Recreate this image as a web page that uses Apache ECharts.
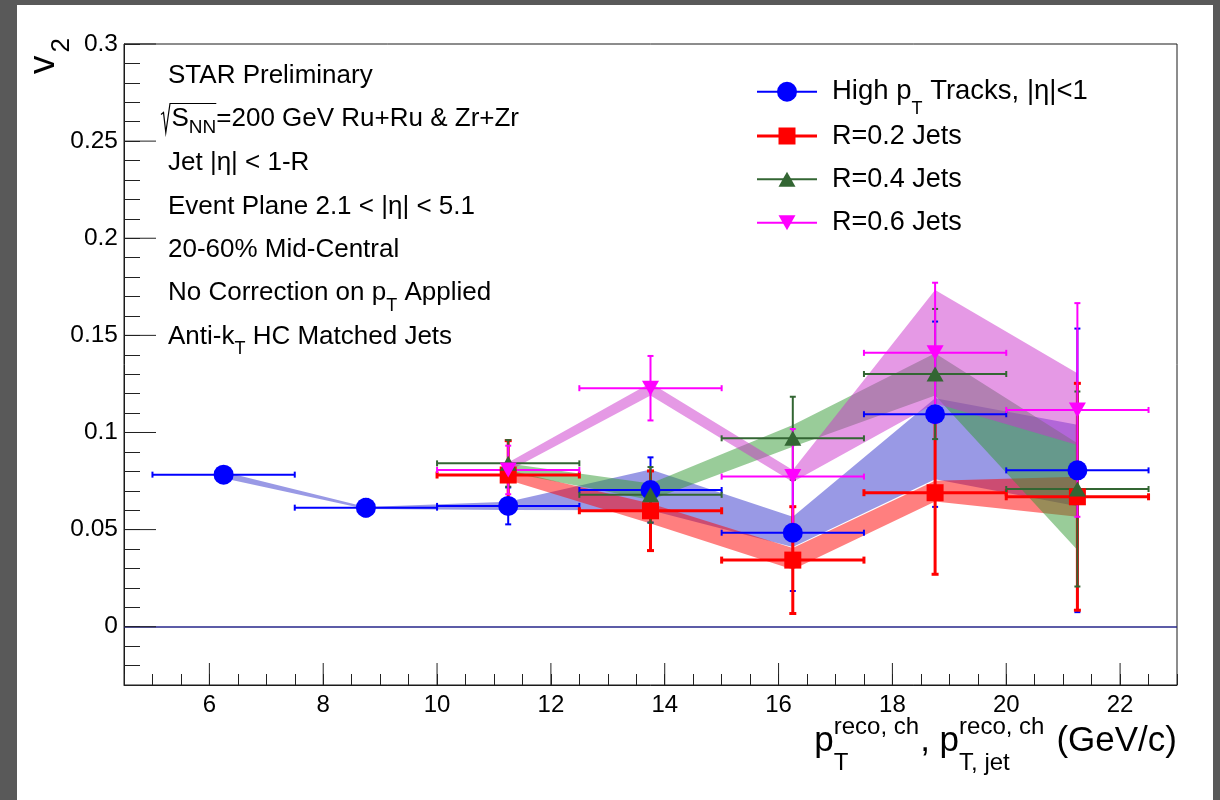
<!DOCTYPE html>
<html>
<head>
<meta charset="utf-8">
<script src="https://cdn.jsdelivr.net/npm/echarts@6/dist/echarts.min.js"></script>
<style>
html,body{margin:0;padding:0;background:#595959;}
#wrap{position:relative;width:1220px;height:800px;background:#595959;overflow:hidden;}
#paper{position:absolute;left:17px;top:5px;width:1196px;height:795px;background:#ffffff;}
#chart{position:absolute;left:0;top:0;width:1220px;height:800px;}
</style>
</head>
<body>
<div id="wrap"><div id="paper"></div><div id="chart"></div></div>
<script>
// ---------------- data ----------------
const tracksPt      = [6.25, 8.75, 11.25, 13.75, 16.25, 18.75, 21.25];
const tracksPtErr   = [1.25, 1.25, 1.25, 1.25, 1.25, 1.25, 1.25];
const tracksV2      = [0.0783, 0.0613, 0.0622, 0.0704, 0.0484, 0.1094, 0.0805];
const tracksStatErr = [0.0020, 0.0045, 0.0095, 0.0168, 0.0300, 0.0477, 0.0730];
const tracksSysLow  = [0.0765, 0.0606, 0.0601, 0.0600, 0.0410, 0.0759, 0.0620];
const tracksSysHigh = [0.0798, 0.0617, 0.0644, 0.0810, 0.0566, 0.1176, 0.1040];

const jetPt         = [11.25, 13.75, 16.25, 18.75, 21.25];
const jetPtErr      = [1.25, 1.25, 1.25, 1.25, 1.25];

const r02V2         = [0.0781, 0.0597, 0.0343, 0.0690, 0.0669];
const r02StatErr    = [0.0177, 0.0205, 0.0275, 0.0420, 0.0584];
const r02SysLow     = [0.0755, 0.0532, 0.0295, 0.0645, 0.0566];
const r02SysHigh    = [0.0807, 0.0635, 0.0405, 0.0752, 0.0772];

const r04V2         = [0.0841, 0.0679, 0.0970, 0.1301, 0.0709];
const r04StatErr    = [0.0120, 0.0143, 0.0214, 0.0335, 0.0502];
const r04SysLow     = [0.0795, 0.0652, 0.0927, 0.1190, 0.0395];
const r04SysHigh    = [0.0840, 0.0738, 0.1039, 0.1408, 0.0944];

const r06V2         = [0.0807, 0.1228, 0.0773, 0.1410, 0.1116];
const r06StatErr    = [0.0125, 0.0166, 0.0245, 0.0361, 0.0550];
const r06SysLow     = [0.0800, 0.1190, 0.0745, 0.1150, 0.0936];
const r06SysHigh    = [0.0845, 0.1255, 0.0807, 0.1734, 0.1305];

const xTickLabels = [6, 8, 10, 12, 14, 16, 18, 20, 22];
const yTickLabels = [0, 0.05, 0.1, 0.15, 0.2, 0.25, 0.3];
const xRange = [4.5, 23];
const yRange = [-0.03, 0.3];

// ---------------- helpers ----------------
const FONT = '"Liberation Sans", Arial, Helvetica, sans-serif';
const mctx = document.createElement('canvas').getContext('2d');
function tw(t, fs) { mctx.font = fs + 'px ' + FONT; return mctx.measureText(t).width; }
function run(x, base, segs, align) {
  const widths = segs.map(s => s.stack ? Math.max.apply(null, s.stack.map(q => tw(q.t, q.fs))) : tw(s.t, s.fs));
  let total = 0;
  segs.forEach((s, k) => { total += widths[k] + (s.gap || 0); });
  let cx = align === 'right' ? x - total : x;
  const els = [];
  const pos = [];
  segs.forEach((s, k) => {
    pos.push(cx);
    const parts = s.stack || [s];
    parts.forEach(q => {
      els.push({
        type: 'text', x: cx, y: base + (q.dy || 0) - 0.3465 * q.fs, silent: true,
        style: { text: q.t, fontSize: q.fs, fontFamily: FONT, fill: '#000', align: 'left', verticalAlign: 'middle' }
      });
    });
    cx += widths[k] + (s.gap || 0);
  });
  return { els: els, end: cx, pos: pos };
}

function bandRender(xs, lo, hi, color) {
  return function (params, api) {
    if (params.dataIndex !== 0) return null;
    const upper = xs.map((x, i) => api.coord([x, hi[i]]));
    const lower = xs.map((x, i) => api.coord([x, lo[i]])).reverse();
    return { type: 'polygon', shape: { points: upper.concat(lower) }, style: { fill: color } };
  };
}
function errRender(color, lw, cap) {
  return function (params, api) {
    const x = api.value(0), y = api.value(1), ex = api.value(2), ey = api.value(3);
    const pL = api.coord([x - ex, y]), pR = api.coord([x + ex, y]);
    const pT = api.coord([x, y + ey]), pB = api.coord([x, y - ey]);
    const st = { stroke: color, lineWidth: lw };
    return { type: 'group', children: [
      { type: 'line', shape: { x1: pL[0], y1: pL[1], x2: pR[0], y2: pR[1] }, style: st },
      { type: 'line', shape: { x1: pL[0], y1: pL[1] - cap, x2: pL[0], y2: pL[1] + cap }, style: st },
      { type: 'line', shape: { x1: pR[0], y1: pR[1] - cap, x2: pR[0], y2: pR[1] + cap }, style: st },
      { type: 'line', shape: { x1: pT[0], y1: pT[1], x2: pB[0], y2: pB[1] }, style: st },
      { type: 'line', shape: { x1: pT[0] - cap, y1: pT[1], x2: pT[0] + cap, y2: pT[1] }, style: st },
      { type: 'line', shape: { x1: pB[0] - cap, y1: pB[1], x2: pB[0] + cap, y2: pB[1] }, style: st }
    ]};
  };
}
function rows4(xs, ys, exs, eys) { return xs.map((x, i) => [x, ys[i], exs[i], eys[i]]); }
function rows3(xs, lo, hi) { return xs.map((x, i) => [x, lo[i], hi[i]]); }

const COL = { blue: '#0000ff', red: '#ff0000', green: '#336633', mag: '#ff00ff' };
const BAND = { blue: 'rgba(51,51,204,0.5)', red: 'rgba(255,0,0,0.5)', green: 'rgba(51,153,51,0.5)', mag: 'rgba(204,51,204,0.5)' };

// ---------------- series ----------------
const series = [];
[[tracksPt, tracksSysLow, tracksSysHigh, BAND.blue],
 [jetPt, r02SysLow, r02SysHigh, BAND.red],
 [jetPt, r04SysLow, r04SysHigh, BAND.green],
 [jetPt, r06SysLow, r06SysHigh, BAND.mag]].forEach(b => {
  series.push({ type: 'custom', silent: true, z: 2, data: rows3(b[0], b[1], b[2]),
    encode: { x: 0, y: [1, 2] }, renderItem: bandRender(b[0], b[1], b[2], b[3]) });
});
[[tracksPt, tracksV2, tracksPtErr, tracksStatErr, COL.blue, 2, 3],
 [jetPt, r02V2, jetPtErr, r02StatErr, COL.red, 3, 3.5],
 [jetPt, r04V2, jetPtErr, r04StatErr, COL.green, 2, 3],
 [jetPt, r06V2, jetPtErr, r06StatErr, COL.mag, 2, 3]].forEach(e => {
  series.push({ type: 'custom', silent: true, z: 3, data: rows4(e[0], e[1], e[2], e[3]),
    encode: { x: 0, y: 1 }, renderItem: errRender(e[4], e[5], e[6]) });
});
series.push({ type: 'scatter', silent: true, z: 4, symbol: 'circle', symbolSize: 20,
  itemStyle: { color: COL.blue, opacity: 1 }, data: tracksPt.map((x, i) => [x, tracksV2[i]]),
  markLine: { silent: true, symbol: 'none', label: { show: false },
    lineStyle: { color: '#26268a', width: 1.5, type: 'solid' }, data: [{ yAxis: 0 }] } });
series.push({ type: 'scatter', silent: true, z: 4, symbol: 'rect', symbolSize: 17,
  itemStyle: { color: COL.red, opacity: 1 }, data: jetPt.map((x, i) => [x, r02V2[i]]) });
series.push({ type: 'scatter', silent: true, z: 4, symbol: 'triangle', symbolSize: [17, 15],
  itemStyle: { color: COL.green, opacity: 1 }, data: jetPt.map((x, i) => [x, r04V2[i]]) });
series.push({ type: 'scatter', silent: true, z: 4, symbol: 'triangle', symbolRotate: 180, symbolSize: [17, 15],
  itemStyle: { color: COL.mag, opacity: 1 }, data: jetPt.map((x, i) => [x, r06V2[i]]) });
// major ticks (longer) at labelled values
series.push({ type: 'custom', silent: true, z: 5, data: xTickLabels.map(v => [v, yRange[0]]),
  encode: { x: 0, y: 1 },
  renderItem: (p, api) => { const c = api.coord([api.value(0), api.value(1)]);
    return { type: 'line', shape: { x1: c[0], y1: c[1], x2: c[0], y2: c[1] - 22 }, style: { stroke: '#222', lineWidth: 1 } }; } });
series.push({ type: 'custom', silent: true, z: 5, data: yTickLabels.map(v => [xRange[0], v]),
  encode: { x: 0, y: 1 },
  renderItem: (p, api) => { const c = api.coord([api.value(0), api.value(1)]);
    return { type: 'line', shape: { x1: c[0], y1: c[1], x2: c[0] + 32, y2: c[1] }, style: { stroke: '#222', lineWidth: 1 } }; } });

// ---------------- text (graphic) ----------------
const graphic = [];
const AFS = 26;
const annot = [
  { base: 84.5, segs: [{ t: 'STAR Preliminary', fs: AFS }] },
  { base: 171.5, segs: [{ t: 'Jet |η| < 1-R', fs: AFS }] },
  { base: 216, segs: [{ t: 'Event Plane 2.1 < |η| < 5.1', fs: AFS }] },
  { base: 258.5, segs: [{ t: '20-60% Mid-Central', fs: AFS }] },
  { base: 302, segs: [{ t: 'No Correction on p', fs: AFS }, { t: 'T', fs: 18, dy: 10 }, { t: ' Applied', fs: AFS }] },
  { base: 345.5, segs: [{ t: 'Anti-k', fs: AFS }, { t: 'T', fs: 18, dy: 10 }, { t: ' HC Matched Jets', fs: AFS }] }
];
annot.forEach(a => { run(168, a.base, a.segs).els.forEach(e => graphic.push(e)); });
// sqrt(S_NN) line
const l2 = run(171.5, 127.5, [{ t: 'S', fs: AFS }, { t: 'NN', fs: 19, dy: 7 }, { t: '=200 GeV Ru+Ru & Zr+Zr', fs: AFS }]);
l2.els.forEach(e => graphic.push(e));
graphic.push({ type: 'polyline', silent: true,
  shape: { points: [[161, 114.5], [163.5, 112.5], [165.8, 132.5], [170, 103.5], [l2.pos[2], 103.5]] },
  style: { stroke: '#000', lineWidth: 1.2, fill: null } });

// legend
const legendRows = [
  { y: 91.7, color: COL.blue, lw: 2, sym: 'circle', segs: [{ t: 'High p', fs: 27.5 }, { t: 'T', fs: 18, dy: 14 }, { t: ' Tracks, |η|<1', fs: 27.5 }] },
  { y: 136, color: COL.red, lw: 3, sym: 'rect', segs: [{ t: 'R=0.2 Jets', fs: 27 }] },
  { y: 179.3, color: COL.green, lw: 2, sym: 'tri', segs: [{ t: 'R=0.4 Jets', fs: 27 }] },
  { y: 222.7, color: COL.mag, lw: 2, sym: 'itri', segs: [{ t: 'R=0.6 Jets', fs: 27 }] }
];
legendRows.forEach(r => {
  graphic.push({ type: 'line', silent: true, shape: { x1: 757, y1: r.y, x2: 817, y2: r.y }, style: { stroke: r.color, lineWidth: r.lw } });
  const cx = 787, cy = r.y;
  if (r.sym === 'circle') graphic.push({ type: 'circle', silent: true, shape: { cx: cx, cy: cy, r: 10 }, style: { fill: r.color } });
  if (r.sym === 'rect') graphic.push({ type: 'rect', silent: true, shape: { x: cx - 8.5, y: cy - 8.5, width: 17, height: 17 }, style: { fill: r.color } });
  if (r.sym === 'tri') graphic.push({ type: 'polygon', silent: true, shape: { points: [[cx, cy - 7.5], [cx + 8.5, cy + 7.5], [cx - 8.5, cy + 7.5]] }, style: { fill: r.color } });
  if (r.sym === 'itri') graphic.push({ type: 'polygon', silent: true, shape: { points: [[cx, cy + 7.5], [cx + 8.5, cy - 7.5], [cx - 8.5, cy - 7.5]] }, style: { fill: r.color } });
  run(832, r.y + 0.358 * 27, r.segs).els.forEach(e => graphic.push(e));
});

// x-axis title
run(1177, 753, [
  { t: 'p', fs: 35 },
  { stack: [{ t: 'reco, ch', fs: 24, dy: -17 }, { t: 'T', fs: 24, dy: 19 }], gap: 1 },
  { t: ', p', fs: 35 },
  { stack: [{ t: 'reco, ch', fs: 24, dy: -17 }, { t: 'T, jet', fs: 24, dy: 19 }], gap: 12 },
  { t: '(GeV/c)', fs: 35 }
], 'right').els.forEach(e => graphic.push(e));

// y-axis title (rotated)
graphic.push({ type: 'group', x: 57, y: 74, rotation: Math.PI / 2, silent: true,
  children: run(0, 0, [{ t: 'v', fs: 37, gap: 3 }, { t: '2', fs: 26, dy: 14 }]).els });

// ---------------- chart ----------------
const chart = echarts.init(document.getElementById('chart'), null, { renderer: 'canvas' });
chart.setOption({
  animation: false,
  backgroundColor: 'transparent',
  grid: { left: 124, right: 43, top: 44, bottom: 115, show: true, borderColor: '#1a1a1a', borderWidth: 1, backgroundColor: '#fff' },
  xAxis: {
    type: 'value', min: xRange[0], max: xRange[1], interval: 0.5,
    axisLine: { show: true, onZero: false, lineStyle: { color: '#1a1a1a', width: 1 } },
    axisTick: { show: true, inside: true, length: 11, lineStyle: { color: '#222', width: 1 } },
    splitLine: { show: false },
    axisLabel: { fontSize: 24, fontFamily: FONT, color: '#000', margin: 8,
      formatter: v => (xTickLabels.some(t => Math.abs(t - v) < 1e-6) ? String(Math.round(v)) : '') }
  },
  yAxis: {
    type: 'value', min: yRange[0], max: yRange[1], interval: 0.01,
    axisLine: { show: true, onZero: false, lineStyle: { color: '#1a1a1a', width: 1 } },
    axisTick: { show: true, inside: true, length: 16, lineStyle: { color: '#222', width: 1 } },
    splitLine: { show: false },
    axisLabel: { fontSize: 24.5, fontFamily: FONT, color: '#000', margin: 6,
      formatter: v => (yTickLabels.some(t => Math.abs(t - v) < 1e-6) ? String(+v.toFixed(2)) : '') }
  },
  series: series,
  graphic: { elements: graphic }
});
</script>
</body>
</html>
